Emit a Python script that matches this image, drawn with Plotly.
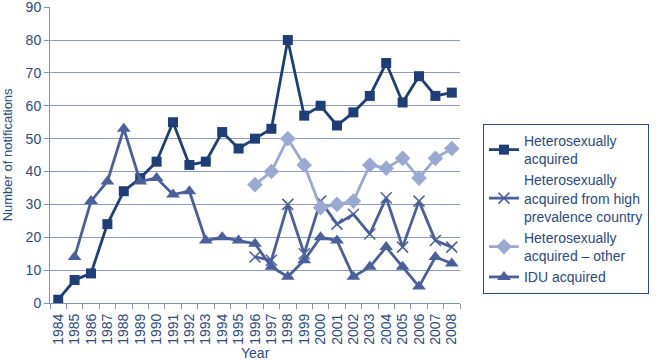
import plotly.graph_objects as go

years = [str(y) for y in range(1984, 2009)]
hetero = [1, 7, 9, 24, 34, 38, 43, 55, 42, 43, 52, 47, 50, 53, 80, 57, 60, 54, 58, 63, 73, 61, 69, 63, 64]
years_96 = [str(y) for y in range(1996, 2009)]
hetero_hpc = [14, 13, 30, 15, 31, 24, 27, 21, 32, 17, 31, 19, 17]
hetero_other = [36, 40, 50, 42, 29, 30, 31, 42, 41, 44, 38, 44, 47]
years_85 = [str(y) for y in range(1985, 2009)]
idu = [14, 31, 37, 53, 37, 38, 33, 34, 19, 20, 19, 18, 11, 8, 13, 20, 19, 8, 11, 17, 11, 5, 14, 12]
y_ticks = list(range(0, 91, 10))

navy = "#1f3e78"
mid = "#4b5f9b"
light = "#9aa9cf"
txt = "#2c4a80"
axc = "#7f93b8"

fig = go.Figure()
fig.add_trace(go.Scatter(x=years, y=hetero, name="Heterosexually<br>acquired", mode="lines+markers",
                         line=dict(color=navy, width=2.8), marker=dict(symbol="square", size=10, color=navy)))
fig.add_trace(go.Scatter(x=years_96, y=hetero_hpc, name="Heterosexually<br>acquired from high<br>prevalence country",
                         mode="lines+markers", line=dict(color=mid, width=2.8),
                         marker=dict(symbol="x-thin", size=11, color=mid, line=dict(color=mid, width=1.5))))
fig.add_trace(go.Scatter(x=years_96, y=hetero_other, name="Heterosexually<br>acquired – other", mode="lines+markers",
                         line=dict(color=light, width=2.8), marker=dict(symbol="diamond", size=12, color=light)))
fig.add_trace(go.Scatter(x=years_85, y=idu, name="IDU acquired", mode="lines+markers",
                         line=dict(color=mid, width=2.8), marker=dict(symbol="triangle-up", size=12, color=mid)))

fig.update_layout(
    width=656, height=362,
    margin=dict(l=50, r=193, t=7, b=59),
    paper_bgcolor="white", plot_bgcolor="white",
    font=dict(family="Liberation Sans, Arial, sans-serif", color=txt, size=12),
    legend=dict(x=1.056, y=0.605, xanchor="left", yanchor="top", bordercolor=txt, borderwidth=1,
                font=dict(size=14, color=txt), tracegroupgap=10, itemwidth=30),
    xaxis=dict(type="category", categoryorder="array", categoryarray=years, range=[-0.5, 24.5],
               tickmode="array", tickvals=years, ticktext=years, automargin=False,
               tickangle=-90, ticks="outside", ticklen=5, tickcolor=axc, tickson="boundaries",
               showline=True, linecolor=axc, linewidth=1, showgrid=False, ticklabelstandoff=4,
               tickfont=dict(size=14, color=txt), ticklabeloverflow="allow"),
    yaxis=dict(range=[0, 90.05], tickmode="array", tickvals=y_ticks, showgrid=True, gridcolor="#8a9cc0", gridwidth=1.3,
               showline=True, linecolor=axc, ticks="outside", ticklen=5, tickcolor=axc, automargin=False,
               zeroline=False, tickfont=dict(size=14, color=txt), ticklabeloverflow="allow"),
    annotations=[
        dict(text="Year", xref="paper", yref="paper", x=0.5, y=-0.168, xanchor="center", yanchor="middle",
             showarrow=False, font=dict(size=14, color=txt)),
        dict(text="Number of notifications", xref="paper", yref="paper", x=-0.104, y=0.5, textangle=-90,
             xanchor="center", yanchor="middle", showarrow=False, font=dict(size=13, color=txt)),
    ],
)

fig.write_html("out.html", config={"displayModeBar": False},
               post_script="document.body.style.margin='0';document.body.style.padding='0';")
